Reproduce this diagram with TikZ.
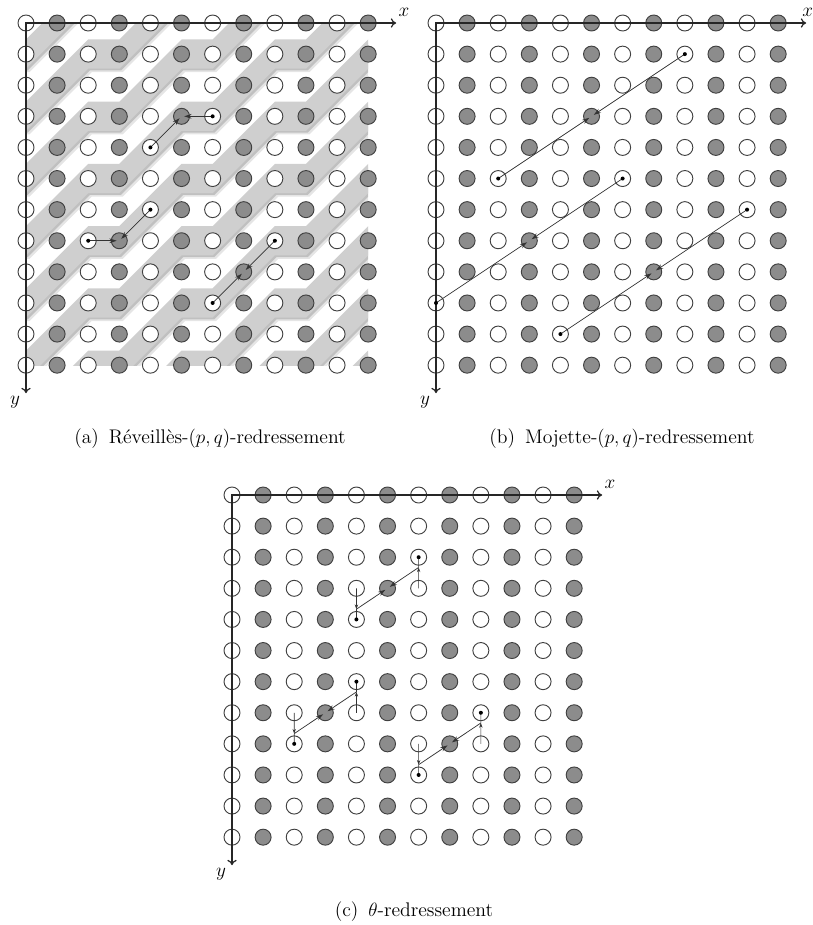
\documentclass[tikz,border=0pt]{standalone}
\usepackage{amsmath}
\usetikzlibrary{arrows.meta,calc}

\begin{document}
\begin{tikzpicture}[
  x=0.75pt, y=-0.75pt,
  font=\fontsize{14.8}{17}\selectfont,
  pix/.style={circle, draw=black!75, line width=0.7pt, minimum size=12pt, inner sep=0pt},
  wpix/.style={pix, fill=white},
  gpix/.style={pix, fill=black!45},
  axis/.style={{To[length=4pt,width=7pt]}-{To[length=4pt,width=7pt]}, line width=0.9pt, black!85},
  arr/.style={-{Stealth[length=5.5pt,width=3.5pt]}, line width=0.55pt, black!80, shorten >=2pt},
  varr/.style={-{Stealth[length=3.5pt,width=2.5pt]}, line width=0.5pt, black!80},
  seg/.style={line width=0.5pt, black!80},
  dot/.style={circle, fill=black, inner sep=0pt, minimum size=3pt},
  lab/.style={inner sep=0pt},
  captxt/.style={anchor=base}]

\useasboundingbox (0,0) rectangle (813,925);

% (a) Reveilles
\begin{scope}[shift={(26,23)}, x=23.33pt, y=-23.33pt]
  \begin{scope}
    \clip (0,0) rectangle (11,11);
    \foreach \k in {-6,-4,...,12}
      \foreach \s/\c/\o in {2.6/black/0.1, 1.3/black/0.16, 0/black!19/1}
        \fill[\c, opacity=\o, xshift=\s pt, yshift=-\s pt]
          plot[variable=\t, samples at={-1,...,13}] (\t, {\k+6.53-\t+floor((\t+0.5)/3)})
          -- plot[variable=\t, samples at={13,12,...,-1}] (\t, {\k+7.47-\t+floor((\t+0.5)/3)}) -- cycle;
  \end{scope}
  \foreach \i in {0,2,...,10} \foreach \j in {0,...,11} \node[wpix] (a-\i-\j) at (\i,\j) {};
  \foreach \i in {1,3,...,11} \foreach \j in {0,...,11} \node[gpix] (a-\i-\j) at (\i,\j) {};
  \coordinate (a-xe) at (11.9,0);
  \coordinate (a-ye) at (0,11.9);
  \draw[axis] (a-xe) -- (a-0-0.center) -- (a-ye);
  \node[lab] (a-xl) at (12.15,-0.35) {$x$};
  \node[lab] (a-yl) at (-0.35,12.2) {$y$};
  \draw[arr] (a-4-4.center) -- (a-5-3.center);
  \draw[arr] (a-6-3.center) -- (a-5-3.center);
  \draw[arr] (a-4-6.center) -- (a-3-7.center);
  \draw[arr] (a-2-7.center) -- (a-3-7.center);
  \draw[arr] (a-6-9.center) -- (a-7-8.center);
  \draw[arr] (a-8-7.center) -- (a-7-8.center);
  \foreach \p in {4-4,6-3,4-6,2-7,6-9,8-7} \node[dot] (a-d\p) at (a-\p) {};
\end{scope}
\node[captxt] (cap-a) at (210,443) {(a)\enspace Réveillès-$(p,q)$-redressement};

% (b) Mojette
\begin{scope}[shift={(436,23)}, x=23.33pt, y=-23.33pt]
  \foreach \i in {0,2,...,10} \foreach \j in {0,...,11} \node[wpix] (b-\i-\j) at (\i,\j) {};
  \foreach \i in {1,3,...,11} \foreach \j in {0,...,11} \node[gpix] (b-\i-\j) at (\i,\j) {};
  \coordinate (b-xe) at (11.9,0);
  \coordinate (b-ye) at (0,11.9);
  \draw[axis] (b-xe) -- (b-0-0.center) -- (b-ye);
  \node[lab] (b-xl) at (11.95,-0.35) {$x$};
  \node[lab] (b-yl) at (-0.35,12.2) {$y$};
  \draw[arr] (b-2-5.center) -- (b-5-3.center);
  \draw[arr] (b-8-1.center) -- (b-5-3.center);
  \draw[arr] (b-0-9.center) -- (b-3-7.center);
  \draw[arr] (b-6-5.center) -- (b-3-7.center);
  \draw[arr] (b-4-10.center) -- (b-7-8.center);
  \draw[arr] (b-10-6.center) -- (b-7-8.center);
  \foreach \p in {2-5,8-1,0-9,6-5,4-10,10-6} \node[dot] (b-d\p) at (b-\p) {};
\end{scope}
\node[captxt] (cap-b) at (622,443) {(b)\enspace Mojette-$(p,q)$-redressement};

% (c) theta
\begin{scope}[shift={(232,495)}, x=23.33pt, y=-23.33pt]
  \foreach \i in {0,2,...,10} \foreach \j in {0,...,11} \node[wpix] (c-\i-\j) at (\i,\j) {};
  \foreach \i in {1,3,...,11} \foreach \j in {0,...,11} \node[gpix] (c-\i-\j) at (\i,\j) {};
  \coordinate (c-xe) at (11.9,0);
  \coordinate (c-ye) at (0,11.9);
  \draw[axis] (c-xe) -- (c-0-0.center) -- (c-ye);
  \node[lab] (c-xl) at (12.15,-0.35) {$x$};
  \node[lab] (c-yl) at (-0.35,12.2) {$y$};
  \foreach \n/\a/\b/\g in {1/4-3/4-4/5-3, 2/6-3/6-2/5-3, 3/2-7/2-8/3-7,
                           4/4-7/4-6/3-7, 5/6-8/6-9/7-8, 6/8-8/8-7/7-8} {
    \coordinate (c-m\n) at ($(c-\a)!0.67!(c-\b)$);
    \draw[varr] (c-\a.center) -- (c-m\n);
    \draw[seg] (c-m\n) -- (c-\b.center);
    \node[dot] (c-d\n) at (c-\b) {};
    \draw[arr] (c-m\n) -- (c-\g.center);
  }
\end{scope}
\node[captxt] (cap-c) at (414,916) {(c)\enspace $\theta$-redressement};
\end{tikzpicture}
\end{document}
